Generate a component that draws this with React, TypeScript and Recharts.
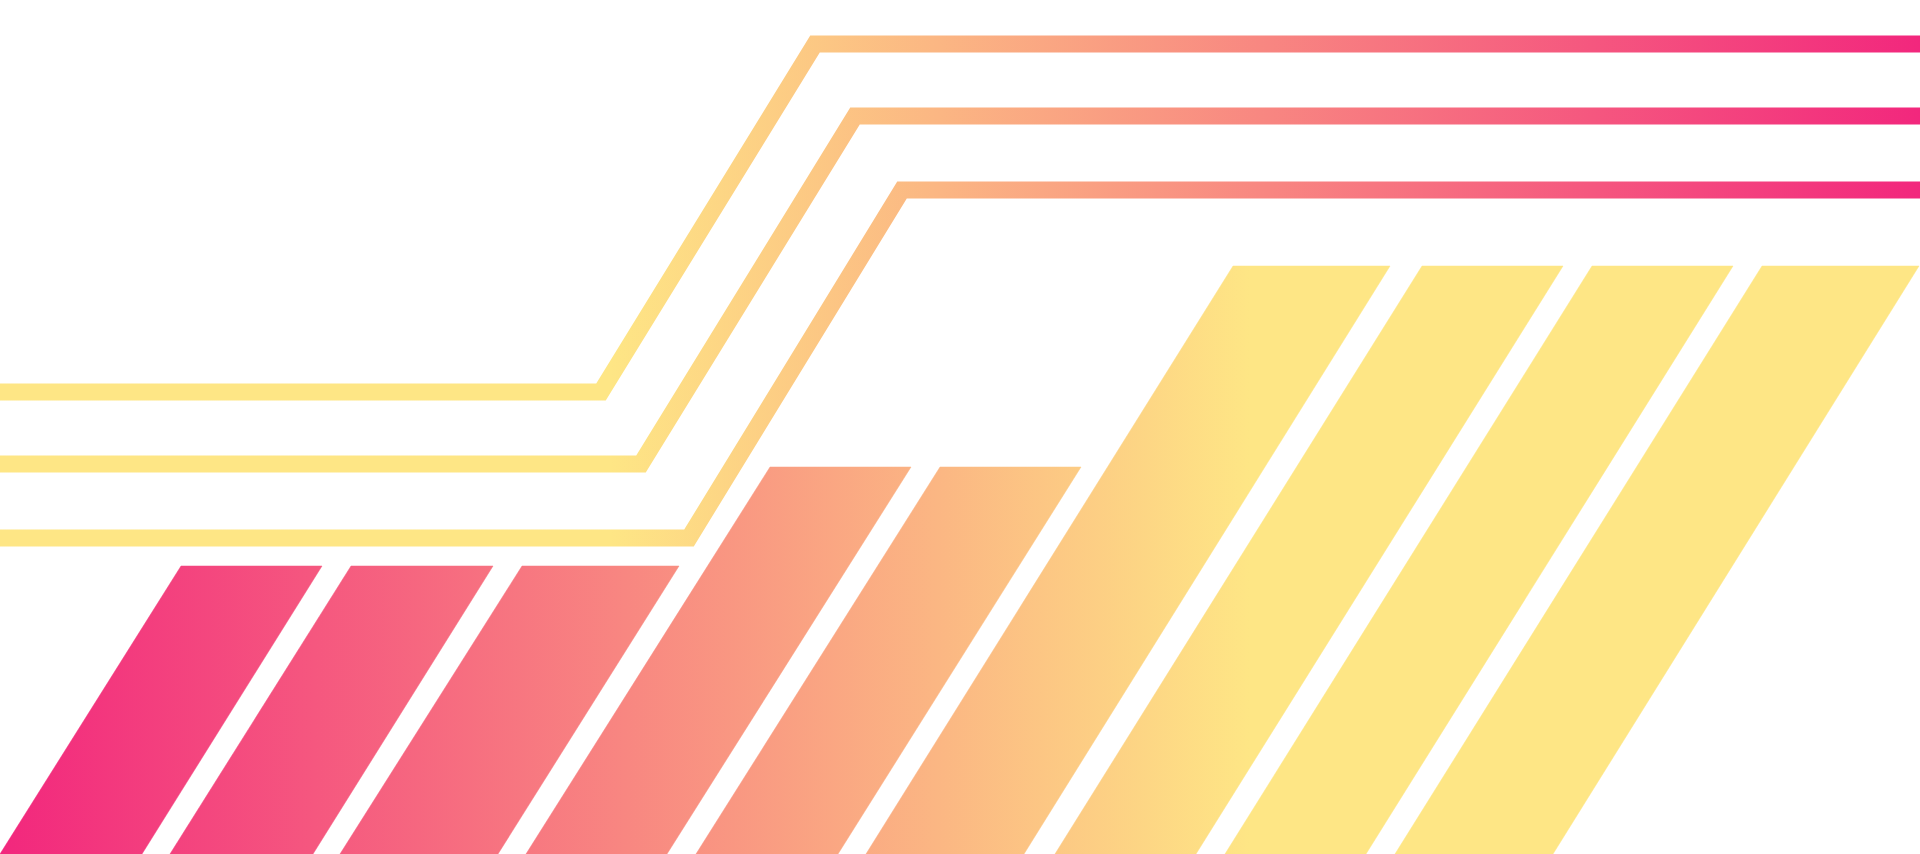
import { Area, ComposedChart, Line, XAxis, YAxis } from "recharts";

const WIDTH = 1920;
const HEIGHT = 854;

// slanted bars (x along the width, height from the bottom)
const barBottomStart = [0, 170, 340, 526, 696, 866, 1055, 1225, 1395];
const barBottomEnd = [142, 313, 498, 667, 838, 1024, 1196, 1366, 1553];
const barTopStart = [181, 351, 522, 770, 940, 1233, 1422, 1592, 1762];
const barTopEnd = [322, 493, 679, 911, 1081, 1390, 1563, 1733, 1919];
const barHeight = [288, 288, 288, 387, 387, 588, 588, 588, 588];

// stepped lines: low level on the left, high level on the right
const lineLow = [462, 390, 316];
const lineHigh = [810, 738, 664];
const lineClimbStart = [601, 641, 689];
const lineClimbEnd = [815, 855, 902];

// each bar is a range area: bottom edge, slanted sides, top edge
const barSeries = barHeight.map((h, i) => {
  const bl = barBottomStart[i];
  const br = barBottomEnd[i];
  const tl = barTopStart[i];
  const tr = barTopEnd[i];
  return [
    { x: bl, range: [0, 0] },
    { x: br, range: [0, (h * (br - bl)) / (tl - bl)] },
    { x: tl, range: [(h * (tl - br)) / (tr - br), h] },
    { x: tr, range: [h, h] },
  ];
});

const lineSeries = lineLow.map((low, i) => [
  { x: 0, y: low },
  { x: lineClimbStart[i], y: low },
  { x: lineClimbEnd[i], y: lineHigh[i] },
  { x: WIDTH, y: lineHigh[i] },
]);

export default function App() {
  return (
    <div
      style={{
        position: "fixed",
        left: 0,
        top: 0,
        width: WIDTH,
        height: HEIGHT,
        background: "#ffffff",
      }}
    >
      <ComposedChart
        width={WIDTH}
        height={HEIGHT}
        margin={{ top: 0, right: 0, bottom: 0, left: 0 }}
      >
        <defs>
          <linearGradient
            id="barFill"
            gradientUnits="userSpaceOnUse"
            x1="0"
            y1="0"
            x2="1250"
            y2="0"
          >
            <stop offset="0%" stopColor="#f2277d" />
            <stop offset="100%" stopColor="#fee685" />
          </linearGradient>
          <linearGradient
            id="lineStroke"
            gradientUnits="userSpaceOnUse"
            x1="610"
            y1="0"
            x2="1920"
            y2="0"
          >
            <stop offset="0%" stopColor="#fee685" />
            <stop offset="100%" stopColor="#f2277d" />
          </linearGradient>
        </defs>
        <XAxis type="number" dataKey="x" domain={[0, WIDTH]} allowDataOverflow hide />
        <YAxis type="number" domain={[0, HEIGHT]} allowDataOverflow hide />
        {barSeries.map((data, i) => (
          <Area
            key={`bar-${i}`}
            data={data}
            type="linear"
            dataKey="range"
            stroke="url(#barFill)"
            strokeWidth={0.5}
            fill="url(#barFill)"
            fillOpacity={1}
            dot={false}
            activeDot={false}
            isAnimationActive={false}
          />
        ))}
        {lineSeries.map((data, i) => (
          <Line
            key={`line-${i}`}
            data={data}
            type="linear"
            dataKey="y"
            stroke="url(#lineStroke)"
            strokeWidth={17}
            strokeLinejoin="miter"
            dot={false}
            activeDot={false}
            isAnimationActive={false}
          />
        ))}
      </ComposedChart>
    </div>
  );
}
